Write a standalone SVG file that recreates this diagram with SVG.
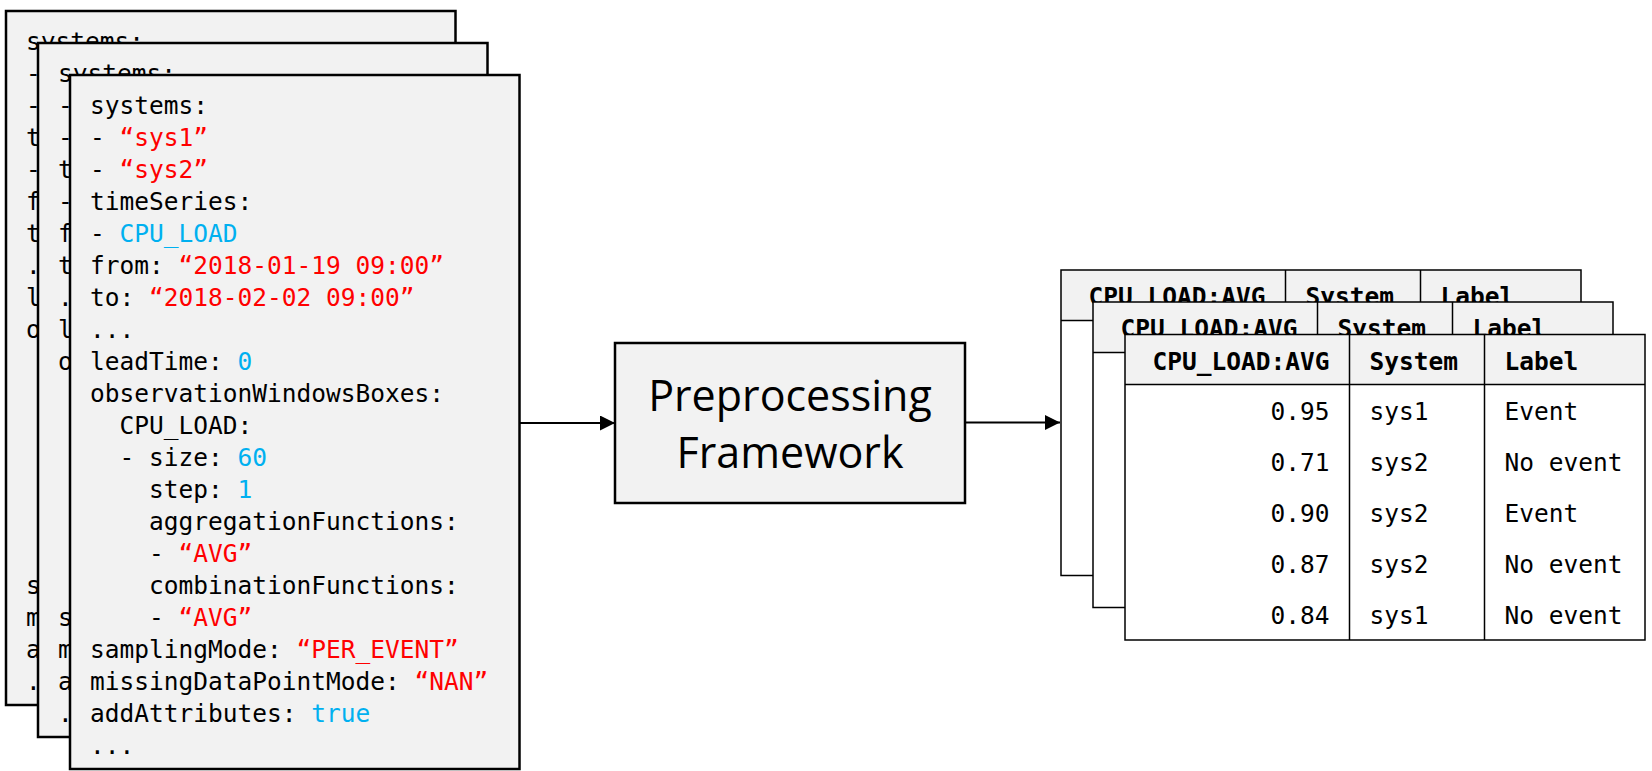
<svg xmlns="http://www.w3.org/2000/svg" width="1652" height="771" viewBox="0 0 1652 771">
<defs>
<style>
.card{fill:#f2f2f2;stroke:#000;stroke-width:2.5}
.code{font-family:"DejaVu Sans Mono","Liberation Mono",monospace;font-size:24.5px;fill:#000}
.r{fill:#ff0000}
.b{fill:#00b0f0}
.box{fill:#f2f2f2;stroke:#000;stroke-width:2.5}
.boxt{font-family:"Open Sans","Noto Sans",sans-serif;font-size:43px;fill:#000;text-anchor:middle}
.conn{stroke:#000;stroke-width:2;fill:none}
.th{fill:#f2f2f2;stroke:none}
.tb{fill:#fff;stroke:none}
.tl{stroke:#000;stroke-width:1.5;fill:none}
.tt{font-family:"DejaVu Sans Mono","Liberation Mono",monospace;font-size:24.5px;fill:#000}
.hd{font-weight:bold}
.e{text-anchor:end}
</style>
<marker id="ah" markerUnits="userSpaceOnUse" markerWidth="15" markerHeight="15" refX="15" refY="7.5" orient="auto" viewBox="0 0 15 15">
<path d="M0,0 L15,7.5 L0,15 z" fill="#000"/>
</marker>
</defs>
<rect width="1652" height="771" fill="#fff"/>

<g id="config-card-3">
<rect class="card" x="6" y="11" width="449.5" height="694"/>
<g class="code">
<text x="26" y="50">systems:</text>
<text x="26" y="82">-</text>
<text x="26" y="114">-</text>
<text x="26" y="146">t</text>
<text x="26" y="178">-</text>
<text x="26" y="210">f</text>
<text x="26" y="242">t</text>
<text x="26" y="274">.</text>
<text x="26" y="306">l</text>
<text x="26" y="338">o</text>
<text x="26" y="594">s</text>
<text x="26" y="626">m</text>
<text x="26" y="658">a</text>
<text x="26" y="690">.</text>
</g>
</g>

<g id="config-card-2">
<rect class="card" x="38" y="43" width="449.5" height="694"/>
<g class="code">
<text x="58" y="82">systems:</text>
<text x="58" y="114">-</text>
<text x="58" y="146">-</text>
<text x="58" y="178">t</text>
<text x="58" y="210">-</text>
<text x="58" y="242">f</text>
<text x="58" y="274">t</text>
<text x="58" y="306">.</text>
<text x="58" y="338">l</text>
<text x="58" y="370">o</text>
<text x="58" y="626">s</text>
<text x="58" y="658">m</text>
<text x="58" y="690">a</text>
<text x="58" y="722">.</text>
</g>
</g>

<g id="config-card-1">
<rect class="card" x="70" y="75" width="449.5" height="694"/>
<g class="code">
<text x="90" y="114">systems:</text>
<text x="90" y="146">- <tspan class="r">“sys1”</tspan></text>
<text x="90" y="178">- <tspan class="r">“sys2”</tspan></text>
<text x="90" y="210">timeSeries:</text>
<text x="90" y="242">- <tspan class="b">CPU_LOAD</tspan></text>
<text x="90" y="274">from: <tspan class="r">“2018-01-19 09:00”</tspan></text>
<text x="90" y="306">to: <tspan class="r">“2018-02-02 09:00”</tspan></text>
<text x="90" y="338">...</text>
<text x="90" y="370">leadTime: <tspan class="b">0</tspan></text>
<text x="90" y="402">observationWindowsBoxes:</text>
<text x="119.5" y="434">CPU_LOAD:</text>
<text x="119.5" y="466">- size: <tspan class="b">60</tspan></text>
<text x="149" y="498">step: <tspan class="b">1</tspan></text>
<text x="149" y="530">aggregationFunctions:</text>
<text x="149" y="562">- <tspan class="r">“AVG”</tspan></text>
<text x="149" y="594">combinationFunctions:</text>
<text x="149" y="626">- <tspan class="r">“AVG”</tspan></text>
<text x="90" y="658">samplingMode: <tspan class="r">“PER_EVENT”</tspan></text>
<text x="90" y="690">missingDataPointMode: <tspan class="r">“NAN”</tspan></text>
<text x="90" y="722">addAttributes: <tspan class="b">true</tspan></text>
<text x="90" y="754">...</text>
</g>
</g>

<g id="preprocessing-framework">
<rect class="box" x="615" y="343" width="350" height="160"/>
<text class="boxt" x="790" y="411">Preprocessing</text>
<text class="boxt" x="790" y="468">Framework</text>
</g>

<g id="connectors">
<line class="conn" x1="519.5" y1="423" x2="615" y2="423" marker-end="url(#ah)"/>
<line class="conn" x1="965" y1="422.5" x2="1060" y2="422.5" marker-end="url(#ah)"/>
</g>

<g id="table-3">
<rect class="th" x="1061" y="270" width="520" height="50.5"/>
<rect class="tb" x="1061" y="320.5" width="520" height="255"/>
<rect class="tl" x="1061" y="270" width="520" height="305.5"/>
<line class="tl" x1="1061" y1="320.5" x2="1581" y2="320.5"/>
<line class="tl" x1="1285.5" y1="270" x2="1285.5" y2="575.5"/>
<line class="tl" x1="1420.5" y1="270" x2="1420.5" y2="575.5"/>
<text class="tt hd e" x="1265.5" y="305">CPU_LOAD:AVG</text>
<text class="tt hd" x="1305.5" y="305">System</text>
<text class="tt hd" x="1440.5" y="305">Label</text>
</g>

<g id="table-2">
<rect class="th" x="1093" y="302" width="520" height="50.5"/>
<rect class="tb" x="1093" y="352.5" width="520" height="255"/>
<rect class="tl" x="1093" y="302" width="520" height="305.5"/>
<line class="tl" x1="1093" y1="352.5" x2="1613" y2="352.5"/>
<line class="tl" x1="1317.5" y1="302" x2="1317.5" y2="607.5"/>
<line class="tl" x1="1452.5" y1="302" x2="1452.5" y2="607.5"/>
<text class="tt hd e" x="1297.5" y="337">CPU_LOAD:AVG</text>
<text class="tt hd" x="1337.5" y="337">System</text>
<text class="tt hd" x="1472.5" y="337">Label</text>
</g>

<g id="table-1">
<rect class="th" x="1125" y="334.5" width="520" height="50"/>
<rect class="tb" x="1125" y="384.5" width="520" height="255.5"/>
<rect class="tl" x="1125" y="334.5" width="520" height="305.5"/>
<line class="tl" x1="1125" y1="384.5" x2="1645" y2="384.5"/>
<line class="tl" x1="1349.5" y1="334.5" x2="1349.5" y2="640"/>
<line class="tl" x1="1484.5" y1="334.5" x2="1484.5" y2="640"/>
<text class="tt hd e" x="1329.5" y="369.5">CPU_LOAD:AVG</text>
<text class="tt hd" x="1369.5" y="369.5">System</text>
<text class="tt hd" x="1504.5" y="369.5">Label</text>
<text class="tt e" x="1329.5" y="420">0.95</text>
<text class="tt" x="1369.5" y="420">sys1</text>
<text class="tt" x="1504.5" y="420">Event</text>
<text class="tt e" x="1329.5" y="471">0.71</text>
<text class="tt" x="1369.5" y="471">sys2</text>
<text class="tt" x="1504.5" y="471">No event</text>
<text class="tt e" x="1329.5" y="522">0.90</text>
<text class="tt" x="1369.5" y="522">sys2</text>
<text class="tt" x="1504.5" y="522">Event</text>
<text class="tt e" x="1329.5" y="573">0.87</text>
<text class="tt" x="1369.5" y="573">sys2</text>
<text class="tt" x="1504.5" y="573">No event</text>
<text class="tt e" x="1329.5" y="624">0.84</text>
<text class="tt" x="1369.5" y="624">sys1</text>
<text class="tt" x="1504.5" y="624">No event</text>
</g>
</svg>
